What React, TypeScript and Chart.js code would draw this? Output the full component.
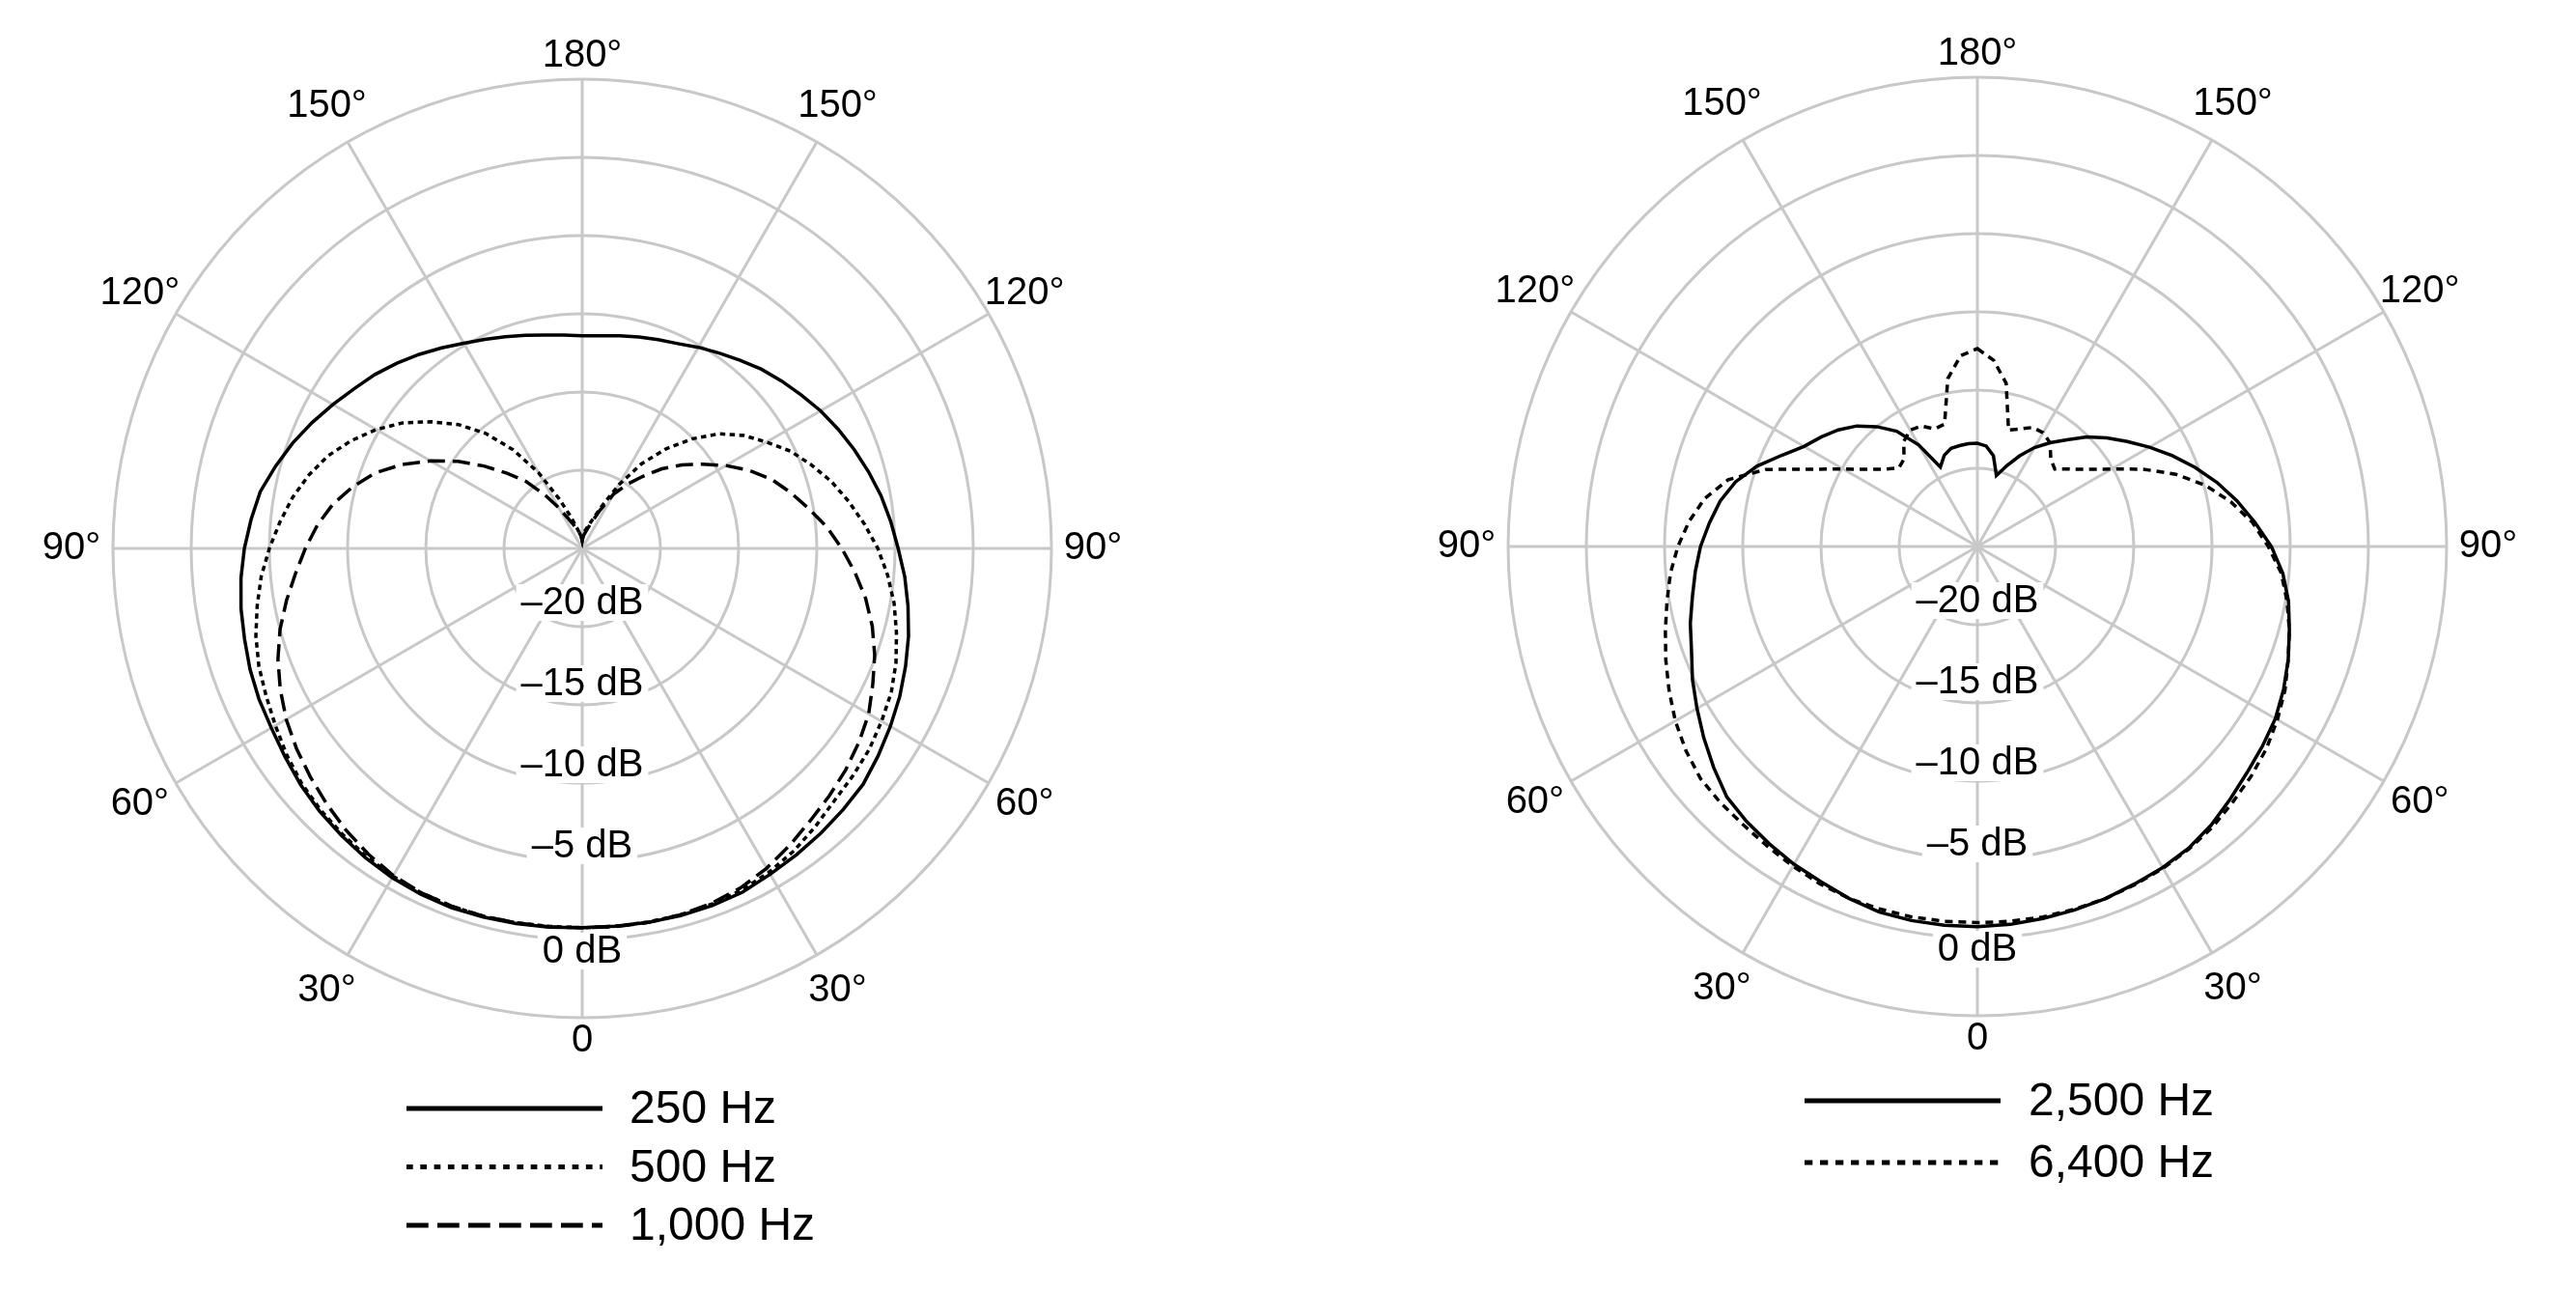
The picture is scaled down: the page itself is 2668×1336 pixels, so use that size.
import { useEffect, useRef } from "react"
import { Chart, registerables } from "chart.js"

Chart.register(...registerables)

// angle labels every 30°, clockwise from the top (rear of the mic)
const angleTicks = ["180°", "150°", "120°", "90°", "60°", "30°", "0", "30°", "60°", "90°", "120°", "150°"]
const dbTicks = [-20, -15, -10, -5, 0]

// one sample every 5°, clockwise from the top: right half 0..180, then left half 175..5
const sampleAngles = Array.from({ length: 72 }, (_, i) => i * 5)

const lowLabels = ["250 Hz", "500 Hz", "1,000 Hz"]
const hz250 = [
  -11.4, -11.35, -11.2, -11.0, -10.8, -10.55, -10.15, -9.75, -9.3, -8.8, -8.35, -7.9, -7.4,
  -6.95, -6.5, -6.05, -5.6, -5.2, -4.8, -4.3, -3.85, -3.4, -3.0, -2.6, -2.25, -1.9, -1.55,
  -1.4, -1.25, -1.1, -0.95, -0.75, -0.7, -0.7, -0.72, -0.75, -0.75,
  -0.7, -0.65, -0.6, -0.55, -0.6, -0.7, -0.85, -1.05, -1.25, -1.5, -1.8, -2.05, -2.2, -2.4,
  -2.65, -2.85, -3.1, -3.4, -3.75, -4.1, -4.7, -5.3, -5.95, -6.6, -7.2, -7.7, -8.25, -8.8,
  -9.35, -9.85, -10.25, -10.6, -10.9, -11.15, -11.3,
]
const hz500 = [
  -24.5, -24, -23.8, -23.5, -23.0, -22.0, -20.3, -18.4, -16.7, -15.1, -13.6, -12.4, -11.4,
  -10.3, -9.4, -8.5, -7.7, -6.9, -6.1, -5.4, -4.75, -4.2, -3.65, -3.2, -2.9, -2.6, -2.4,
  -2.2, -1.8, -1.4, -1.1, -0.9, -0.8, -0.75, -0.75, -0.75, -0.75,
  -0.75, -0.7, -0.65, -0.65, -0.7, -0.8, -0.95, -1.15, -1.35, -1.6, -1.95, -2.35, -2.7, -3.0,
  -3.4, -3.9, -4.4, -5.0, -5.6, -6.2, -6.9, -7.7, -8.7, -9.8, -11.0, -12.4, -13.8, -15.4,
  -17.3, -19.4, -21.5, -22.8, -23.6, -24, -24.2,
]
const hz1000 = [
  -24.5, -24.2, -24, -23.7, -23.2, -22.3, -21.0, -20.0, -19.0, -17.8, -16.7, -15.6, -14.4,
  -13.2, -12.1, -11.2, -10.3, -9.3, -8.4, -7.5, -6.6, -5.8, -5.1, -4.5, -3.85, -3.4, -3.0,
  -2.65, -2.3, -1.85, -1.4, -1.05, -0.85, -0.75, -0.72, -0.72, -0.75,
  -0.72, -0.7, -0.65, -0.65, -0.7, -0.85, -1.15, -1.5, -1.9, -2.3, -2.7, -3.15, -3.7, -4.3,
  -5.0, -5.8, -6.6, -7.3, -8.0, -8.8, -9.8, -10.9, -12.3, -13.8, -15.3, -16.8, -18.2, -19.4,
  -20.8, -22.0, -22.9, -23.4, -23.8, -24, -24.2,
]

const highLabels = ["2,500 Hz", "6,400 Hz"]
const hz2500 = [
  -18.4, -18.55, -19.1, -20.3, -19.5, -18.6, -17.7, -16.9, -16.1, -15.1, -14.2, -13.3, -12.3,
  -11.25, -10.2, -9.15, -8.15, -7.2, -6.2, -5.4, -4.8, -4.35, -3.85, -3.4, -3.0, -2.75, -2.5,
  -2.15, -1.75, -1.45, -1.3, -1.2, -1.05, -0.95, -0.85, -0.75, -0.7,
  -0.7, -0.72, -0.8, -1.05, -1.35, -1.55, -1.8, -2.05, -2.35, -3.0, -3.65, -4.3, -4.9, -5.55,
  -6.0, -6.5, -6.9, -7.3, -7.8, -8.3, -9.0, -10.0, -11.2, -12.2, -12.8, -13.4, -14.1, -15.0,
  -16.0, -17.5, -19.4, -18.8, -18.5, -18.45, -18.4,
]
const hz6400 = [
  -12.35, -13.05, -14.4, -17.3, -17.0, -16.6, -16.6, -16.9, -17.7, -18.0, -17.3, -16.4, -15.1,
  -13.3, -11.5, -9.9, -8.55, -7.35, -6.4, -5.5, -4.9, -4.35, -3.85, -3.3, -2.85, -2.45, -2.15,
  -1.9, -1.6, -1.4, -1.25, -1.15, -1.05, -1.0, -0.95, -0.95, -0.95,
  -0.95, -0.95, -1.0, -1.05, -1.2, -1.4, -1.6, -1.75, -1.8, -1.9, -2.25, -2.7, -3.25, -3.8,
  -4.35, -4.85, -5.3, -5.85, -6.5, -7.3, -8.5, -10.6, -13.3, -15.1, -16.4, -17.3, -17.9, -17.7,
  -16.8, -16.4, -16.5, -17.0, -16.9, -14.1, -12.75,
]

const GRID = "#c8c8c8"
const FONT = '"Liberation Sans", Arial, Helvetica, sans-serif'

// labels round the plot, dB labels under the centre and the line legend
const polarDecor = {
  id: "polarDecor",
  beforeDatasetsDraw(chart: any) {
    const scale = chart.scales.r
    const ctx = chart.ctx
    const R = scale.drawingArea
    ctx.save()
    ctx.font = `40px ${FONT}`
    ctx.textAlign = "center"
    ctx.textBaseline = "middle"

    dbTicks.forEach((v) => {
      const d = scale.getDistanceFromCenterForValue(v)
      // labels sit just inside their ring, the 0 dB one just outside
      const y = scale.yCenter + (v === 0 ? d + 12 : d - 25 + 0.6 * (v + 20))
      const text = v === 0 ? "0 dB" : `\u2013${-v} dB`
      const w = ctx.measureText(text).width
      ctx.fillStyle = "#fff"
      ctx.fillRect(scale.xCenter - w / 2 - 5, y - 19, w + 10, 38)
      ctx.fillStyle = "#000"
      ctx.fillText(text, scale.xCenter, y + 1)
    })

    angleTicks.forEach((text, i) => {
      const idx = i * 6
      const s = Math.abs(Math.sin(scale.getIndexAngle(idx)))
      const p = scale.getPointPosition(idx, R + 24 + 19 * Math.min(1, 2 * s))
      ctx.fillStyle = "#000"
      ctx.fillText(text, p.x, p.y)
    })
    ctx.restore()
  },
  afterDraw(chart: any, _args: any, opts: any) {
    const ctx = chart.ctx
    ctx.save()
    ctx.font = `48px ${FONT}`
    ctx.textAlign = "left"
    ctx.textBaseline = "middle"
    chart.data.datasets.forEach((ds: any, k: number) => {
      const y = opts.top + k * opts.gap
      ctx.beginPath()
      ctx.setLineDash(opts.dash[k])
      ctx.lineWidth = 5
      ctx.strokeStyle = "#000"
      ctx.moveTo(opts.x0, y)
      ctx.lineTo(opts.x1, y)
      ctx.stroke()
      ctx.setLineDash([])
      ctx.fillStyle = "#000"
      ctx.fillText(ds.label, opts.textX, y + 2)
    })
    ctx.restore()
  },
}

function PolarPlot({ labels, series, dashes, legendDashes, padding, legend }: any) {
  const chartRef = useRef<HTMLCanvasElement>(null)
  const chartInstance = useRef<Chart | null>(null)

  useEffect(() => {
    if (!chartRef.current) return
    if (chartInstance.current) chartInstance.current.destroy()
    const ctx = chartRef.current.getContext("2d")
    if (!ctx) return

    chartInstance.current = new Chart(ctx, {
      type: "radar",
      data: {
        labels: sampleAngles.map(String),
        datasets: series.map((values: number[], k: number) => ({
          label: labels[k],
          data: values,
          borderColor: "#000",
          borderWidth: 3.5,
          borderDash: dashes[k],
          backgroundColor: "transparent",
          fill: false,
          pointRadius: 0,
          tension: 0,
        })),
      },
      options: {
        responsive: false,
        animation: false,
        layout: { padding },
        plugins: {
          legend: { display: false },
          tooltip: { enabled: false },
          polarDecor: { ...legend, dash: legendDashes },
        } as any,
        scales: {
          r: {
            min: -25,
            max: 5,
            ticks: { stepSize: 5, display: false },
            grid: { circular: true, color: GRID, lineWidth: 3 },
            angleLines: {
              color: GRID,
              lineWidth: (c: any) => (c.index % 6 === 0 ? 3 : 0),
            },
            pointLabels: { display: false },
          },
        },
      },
      plugins: [polarDecor],
    })

    return () => {
      if (chartInstance.current) chartInstance.current.destroy()
    }
  }, [])

  return <canvas ref={chartRef} width={1334} height={1336} />
}

export default function App() {
  return (
    <div style={{ position: "fixed", left: 0, top: 0, width: 2668, height: 1336, background: "#fff" }}>
      <div style={{ position: "absolute", left: 0, top: 0 }}>
        <PolarPlot
          labels={lowLabels}
          series={[hz250, hz500, hz1000]}
          dashes={[[], [5.5, 4.5], [18, 8]]}
          legendDashes={[[], [6.7, 7.6], [22.7, 9.3]]}
          padding={{ left: 117, top: 82, right: 245, bottom: 282 }}
          legend={{ x0: 421, x1: 624, textX: 652, top: 1148, gap: 60.5 }}
        />
      </div>
      <div style={{ position: "absolute", left: 1334, top: 0 }}>
        <PolarPlot
          labels={highLabels}
          series={[hz2500, hz6400]}
          dashes={[[], [8, 6]]}
          legendDashes={[[], [8.3, 7.7]]}
          padding={{ left: 228, top: 80, right: 134, bottom: 284 }}
          legend={{ x0: 535, x1: 738, textX: 767, top: 1140, gap: 64 }}
        />
      </div>
    </div>
  )
}
